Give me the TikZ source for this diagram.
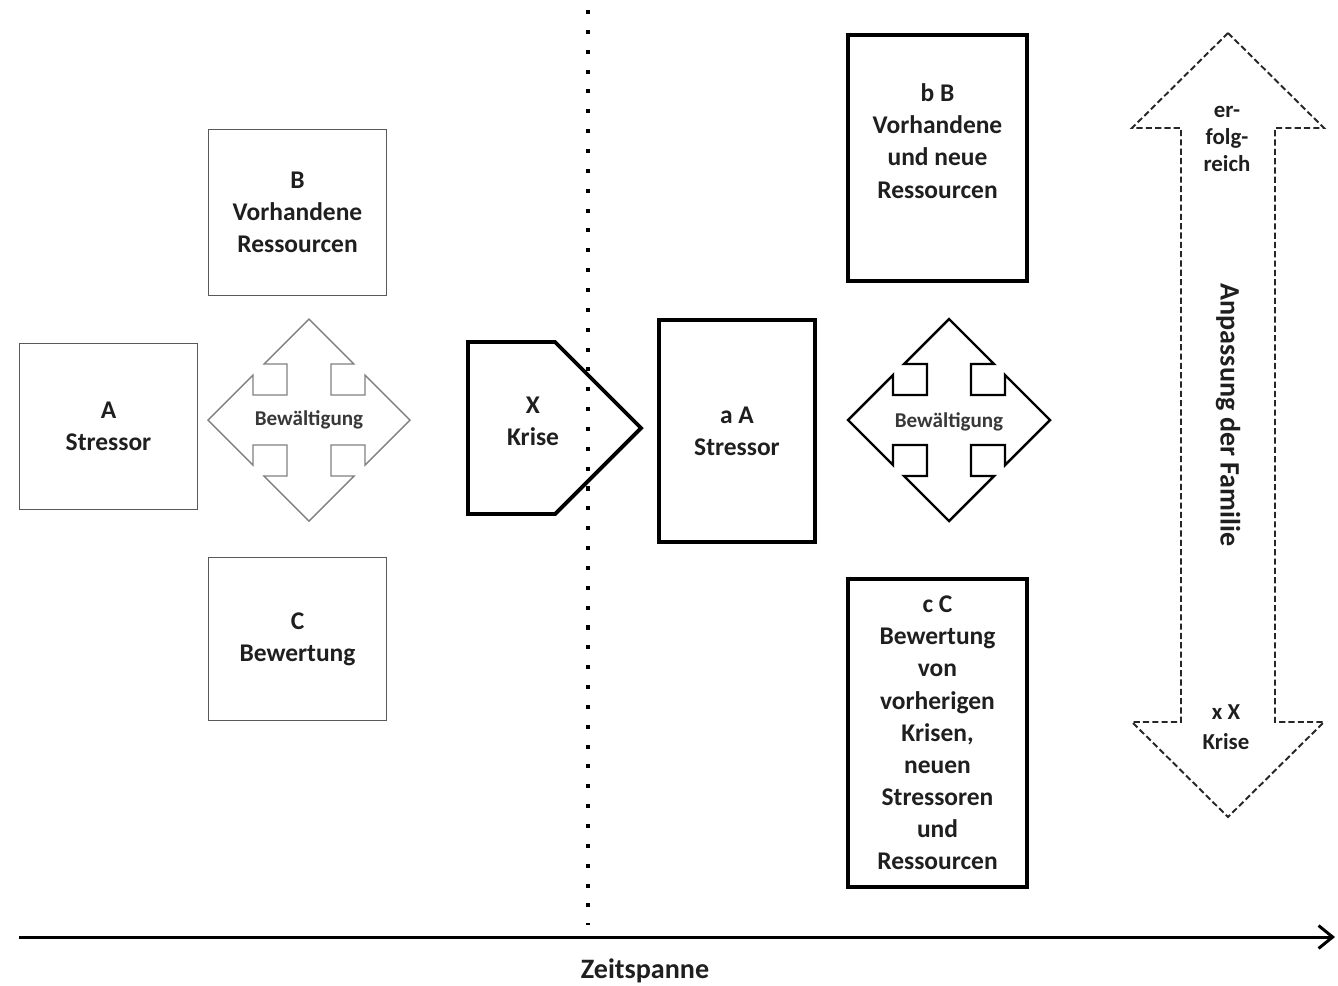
\documentclass[tikz,border=0pt]{standalone}
\usepackage{fontspec}
\setmainfont{Carlito}
\usetikzlibrary{shapes,arrows.meta}
\usetikzlibrary{positioning}

\newcommand{\boxfont}{\fontsize{14.5}{18.3}\selectfont\bfseries}
\newcommand{\crosspath}{(0,-101) -- (45,-56) -- (22,-56) -- (22,-25) -- (56,-25)
  -- (56,-45) -- (101,0) -- (56,45) -- (56,25) -- (22,25) -- (22,56) -- (45,56)
  -- (0,101) -- (-45,56) -- (-22,56) -- (-22,25) -- (-56,25) -- (-56,45)
  -- (-101,0) -- (-56,-45) -- (-56,-25) -- (-22,-25) -- (-22,-56) -- (-45,-56) -- cycle}

\tikzstyle{oldbox} = [rectangle, draw=black!65, line width=0.8pt,
    text=black!88, align=center, font=\boxfont]
\tikzstyle{newbox} = [rectangle, draw=black, line width=2.2pt,
    text=black!88, align=center, font=\boxfont]
\tikzstyle{boxtext} = [align=center, text=black!88, font=\boxfont]
\tikzstyle{oldcross} = [draw=black!50, line width=0.8pt]
\tikzstyle{newcross} = [draw=black, line width=1.4pt]
\tikzstyle{copetext} = [font=\fontsize{12}{14}\selectfont\bfseries, text=black!78]
\tikzstyle{crisis} = [draw=black, line width=2.2pt]
\tikzstyle{dotline} = [draw=black, line width=2.3pt, dash pattern=on 2.3pt off 9pt]
\tikzstyle{adapt} = [draw=black!85, line width=1.1pt, dash pattern=on 3.5pt off 1.8pt]
\tikzstyle{adapttext} = [align=center, text=black!88, font=\fontsize{13}{15.6}\selectfont\bfseries]
\tikzstyle{bigtext} = [text=black!88, font=\fontsize{16}{19}\selectfont\bfseries]
\tikzstyle{timeline} = [draw, line width=1.7pt, -{Straight Barb[length=8pt,width=13pt]}]

\begin{document}
\begin{tikzpicture}[x=0.02cm, y=-0.02cm]
\useasboundingbox (0,0) rectangle (1338,985);

% Before the crisis
\node [oldbox, minimum width=3.56cm, minimum height=3.32cm] (A) at (108.5,426.5) {A\\Stressor};
\node [oldbox, minimum width=3.56cm, minimum height=3.32cm] (B) at (297.5,212.5) {B\\Vorhandene\\Ressourcen};
\node [oldbox, minimum width=3.56cm, minimum height=3.26cm] (C) at (297.5,639) {C\\Bewertung};

\coordinate (oldcope) at (309,420);
\draw [oldcross, shift={(309,420)}] \crosspath;
\node [copetext] (oldcopetext) at (oldcope) {Bewältigung};

% Crisis
\draw [crisis] (468,342) -- (555,342) -- (641,428) -- (555,514) -- (468,514) -- cycle;
\node [boxtext] (X) at (533,421) {X\\Krise};

% Dotted separator
\coordinate (septop) at (588,10);
\coordinate (sepbottom) at (588,925);
\path [dotline] (septop) -- (sepbottom);

% After the crisis
\node [newbox, minimum width=3.12cm, minimum height=4.44cm] (aA) at (737,431) {a A\\Stressor};
\node [newbox, minimum width=3.58cm, minimum height=4.92cm] (bB) at (937.5,158) {};
\node [boxtext] (bBtext) at (937.5,141) {b B\\Vorhandene\\und neue\\Ressourcen};
\node [newbox, minimum width=3.58cm, minimum height=6.16cm] (cC) at (937.5,733)
    {c C\\Bewertung\\von\\vorherigen\\Krisen,\\neuen\\Stressoren\\und\\Ressourcen};

\coordinate (newcope) at (949,420);
\draw [newcross, shift={(949,420)}] \crosspath;
\node [copetext] (newcopetext) at (949,422) {Bewältigung};

% Adaptation
\draw [adapt] (1228,33) -- (1324,128) -- (1275,128) -- (1275,722) -- (1324,722)
    -- (1228,817) -- (1132,722) -- (1181,722) -- (1181,128) -- (1132,128) -- cycle;
\node [adapttext] (good) at (1227,139) {er-\\folg-\\reich};
\node [adapttext, font=\fontsize{13}{17}\selectfont\bfseries] (bad) at (1226,727) {x X\\Krise};
\node [bigtext, rotate=-90] (family) at (1228,415) {Anpassung der Familie};

% Time axis
\coordinate (tstart) at (19,937);
\coordinate (tend) at (1335,937);
\path [timeline] (tstart) -- (tend);
\node [bigtext] (time) at (645,971) {Zeitspanne};

\end{tikzpicture}
\end{document}
